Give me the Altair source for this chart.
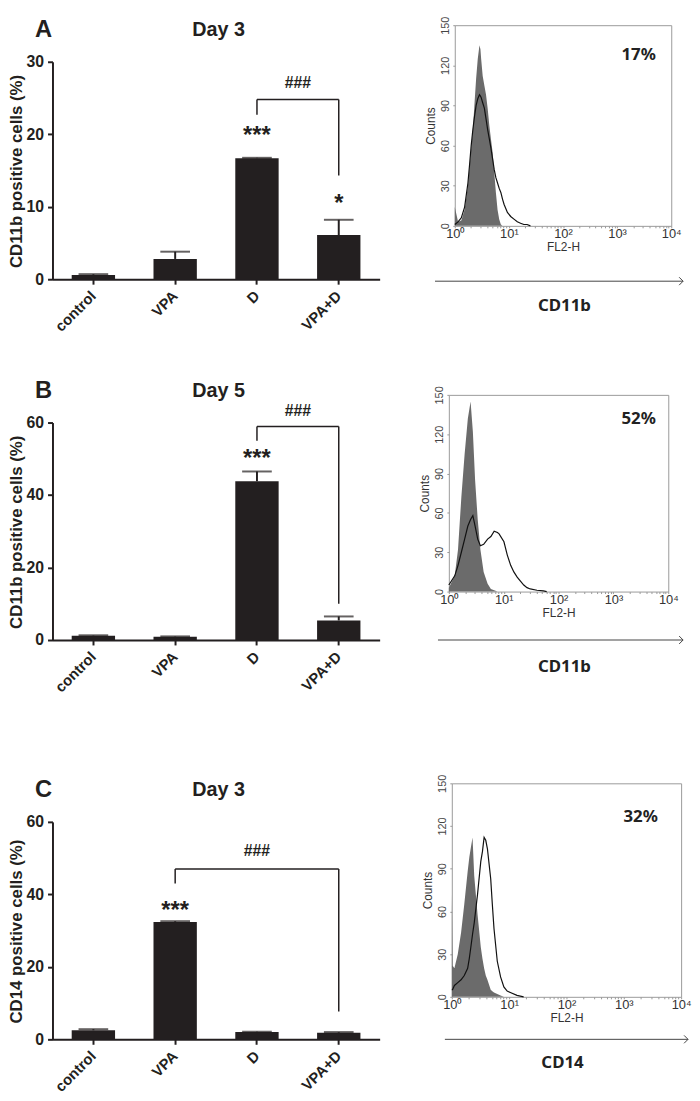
import altair as alt
import pandas as pd

# ---------------- data ----------------
CATS = ["control", "VPA", "D", "VPA+D"]

A_MEAN = [0.6, 2.8, 16.7, 6.1]
A_ERR = [0.1, 1.0, 0.05, 2.1]
B_MEAN = [1.2, 0.9, 43.8, 5.4]
B_ERR = [0.1, 0.1, 2.7, 1.1]
C_MEAN = [2.5, 32.4, 2.0, 1.8]
C_ERR = [0.3, 0.2, 0.1, 0.2]

A_STAR_CAT = ["D", "VPA+D"]
A_STAR_TXT = ["***", "*"]
A_STAR_Y = [20.7, 11.3]
B_STAR_CAT = ["D"]
B_STAR_TXT = ["***"]
B_STAR_Y = [51.7]
C_STAR_CAT = ["VPA"]
C_STAR_TXT = ["***"]
C_STAR_Y = [37.2]

# bracket: categories, [top, left leg end, right leg end], label height
A_BR_CATS = ["D", "VPA+D"]
A_BR_Y = [24.8, 22.7, 14.3]
A_HASH_Y = 27.2
B_BR_CATS = ["D", "VPA+D"]
B_BR_Y = [58.9, 55.0, 10.0]
B_HASH_Y = 63.4
C_BR_CATS = ["VPA", "VPA+D"]
C_BR_Y = [47.0, 43.0, 7.7]
C_HASH_Y = 52.3

# flow cytometry histograms (FL2-H, counts)
HA_FL = [1.00, 1.15, 1.32, 1.52, 1.75, 1.88, 2.01, 2.16, 2.32, 2.48, 2.66, 2.86, 2.98, 3.07,
         3.28, 3.52, 3.78, 4.05, 4.35, 4.66, 5.00, 5.36, 5.75, 6.17, 6.62, 7.10, 7.62, 8.16,
         9.39, 10.8, 12.4, 14.3, 16.4, 18.9, 21.7, 25.0]
HA_ISO = [14, 3, 4, 12, 30, 45, 58, 72, 92, 110, 125, 135, 132, 125,
          112, 105, 98, 88, 75, 65, 55, 40, 25, 12, 5, 1, 0, 0,
          0, 0, 0, 0, 0, 0, 0, 0]
HA_STAIN = [1, 3, 6, 14, 32, 46, 60, 72, 82, 90, 95, 98, 97, 96,
            92, 88, 80, 72, 65, 58, 50, 42, 36, 32, 28, 25, 20, 16,
            10, 7, 5, 3, 2, 1, 1, 0]

HB_FL = [1.00, 1.28, 1.47, 1.69, 1.94, 2.22, 2.49, 2.74, 3.01, 3.36, 3.76, 4.31, 5.09, 5.84,
         6.70, 7.69, 8.24, 10.1, 11.6, 13.4, 15.3, 17.6, 20.2, 23.2, 26.6, 30.5, 40.3, 53.0, 60.8]
HB_ISO = [3, 12, 32, 72, 105, 132, 145, 122, 85, 55, 32, 15, 6, 2,
          1, 0, 0, 0, 0, 0, 0, 0, 0, 0, 0, 0, 0, 0, 0]
HB_STAIN = [5, 12, 20, 30, 40, 50, 55, 58, 50, 40, 35, 36, 40, 42,
            46, 45, 44, 38, 28, 20, 15, 11, 8, 5, 3, 2, 1, 0.5, 0]

HC_FL = [1.00, 1.03, 1.11, 1.27, 1.45, 1.65, 1.89, 2.02, 2.15, 2.30, 2.46, 2.81, 3.20, 3.42,
         3.66, 3.91, 4.18, 4.77, 5.09, 5.44, 6.21, 7.09, 8.09, 9.24, 10.5, 13.7, 17.9]
HC_ISO = [72, 22, 20, 30, 45, 65, 88, 98, 105, 112, 85, 58, 35, 27,
          20, 15, 12, 5, 4, 3, 2, 1, 0, 0, 0, 0, 0]
HC_STAIN = [5, 5, 8, 10, 12, 15, 20, 27, 35, 44, 52, 72, 95, 102,
            112, 110, 104, 83, 65, 48, 25, 14, 7, 4, 3, 1, 0]

X_TICKS = [1, 2, 3, 4, 5, 6, 7, 8, 9, 10, 20, 30, 40, 50, 60, 70, 80, 90,
           100, 200, 300, 400, 500, 600, 700, 800, 900,
           1000, 2000, 3000, 4000, 5000, 6000, 7000, 8000, 9000, 10000]
Y_TICKS_H = [0, 30, 60, 90, 120, 150]

# ---------------- style ----------------
BLK = "#231f20"
FONT = "Liberation Sans"
BAR_W = 331
STEP = BAR_W / 4.0
PI = 0.47
BAR_H = 220


def inv_rule_y(y):
    return alt.Chart(pd.DataFrame({"k": [0]})).mark_rule(strokeOpacity=0, opacity=0).encode(
        y=alt.value(y))


def inv_rule_x(x):
    return alt.Chart(pd.DataFrame({"k": [0]})).mark_rule(strokeOpacity=0, opacity=0).encode(
        x=alt.value(x), y=alt.value(0), y2=alt.value(2))


def bar_panel(letter, day, ytitle, ymax, yvals, mean, err, scat, stxt, sy,
              bcats, by, hy, d):
    xscale = alt.Scale(domain=CATS, paddingInner=PI, paddingOuter=PI / 2)
    xaxis = alt.Axis(title=None, labelAngle=315, labelAlign="right", labelBaseline="middle",
                     labelFont=FONT, labelFontWeight="bold", labelFontSize=15, labelColor=BLK,
                     labelPadding=9, tickSize=5, tickWidth=2, tickColor=BLK,
                     domainColor=BLK, domainWidth=2, grid=False)
    yscale = alt.Scale(domain=[0, ymax], nice=False, range=[BAR_H + d, d])
    yaxis = alt.Axis(title=None, values=yvals, labelFont=FONT, labelFontWeight="bold",
                     labelFontSize=16, labelColor=BLK, labelPadding=4, tickSize=5,
                     tickWidth=2, tickColor=BLK, domainColor=BLK, domainWidth=2, grid=False)

    def X(f):
        return alt.X(f"{f}:N", sort=CATS, scale=xscale, axis=xaxis)

    def Y(f):
        return alt.Y(f"{f}:Q", scale=yscale, axis=yaxis)

    df = pd.DataFrame({"cat": CATS, "mean": mean,
                       "top": [m + e for m, e in zip(mean, err)]})
    bars = alt.Chart(df).mark_bar(color=BLK).encode(x=X("cat"), y=Y("mean"))
    stem = alt.Chart(df).mark_rule(color=BLK, strokeWidth=2).encode(
        x=X("cat"), y=Y("mean"), y2=alt.Y2("top"))
    cap = alt.Chart(df).mark_tick(color=BLK, size=30, thickness=2).encode(
        x=X("cat"), y=Y("top"))

    sdf = pd.DataFrame({"cat": scat, "t": stxt, "y": sy})
    stars = alt.Chart(sdf).mark_text(font=FONT, fontWeight="bold", fontSize=24, color=BLK,
                                     baseline="alphabetic", dy=14).encode(
        x=X("cat"), y=Y("y"), text="t:N")

    hdf = pd.DataFrame({"c1": [bcats[0]], "c2": [bcats[1]], "y": [by[0]]})
    hline = alt.Chart(hdf).mark_rule(color=BLK, strokeWidth=1.5).encode(
        x=X("c1"), x2=alt.X2("c2"), y=Y("y"))
    ldf = pd.DataFrame({"cat": bcats, "y": [by[0], by[0]], "y2": [by[1], by[2]]})
    legs = alt.Chart(ldf).mark_rule(color=BLK, strokeWidth=1.5).encode(
        x=X("cat"), y=Y("y"), y2=alt.Y2("y2"))
    span = CATS.index(bcats[1]) - CATS.index(bcats[0])
    tdf = pd.DataFrame({"cat": [bcats[0]], "y": [hy], "t": ["###"]})
    hashes = alt.Chart(tdf).mark_text(font=FONT, fontWeight="bold", fontSize=16, color=BLK,
                                      baseline="alphabetic", dy=6, dx=span * STEP / 2).encode(
        x=X("cat"), y=Y("y"), text="t:N")

    lt = alt.Chart(pd.DataFrame({"t": [letter]})).mark_text(
        font=FONT, fontWeight="bold", fontSize=24, color=BLK, baseline="middle").encode(
        x=alt.value(-9), y=alt.value(d - 32), text="t:N")
    tt = alt.Chart(pd.DataFrame({"t": [day]})).mark_text(
        font=FONT, fontWeight="bold", fontSize=20, color=BLK, baseline="middle").encode(
        x=alt.value(168), y=alt.value(d - 32), text="t:N")
    yt = alt.Chart(pd.DataFrame({"t": [ytitle]})).mark_text(
        font=FONT, fontWeight="bold", fontSize=17, color=BLK, baseline="middle",
        align="center", angle=270).encode(
        x=alt.value(-35.5), y=alt.value(d + 111), text="t:N")

    return alt.layer(bars, stem, cap, stars, hline, legs, hashes, lt, tt, yt,
                     inv_rule_x(-44), inv_rule_x(348)).properties(width=BAR_W,
                                                                  height=BAR_H + d)


def hist_panel(fl, iso, stain, pct, pct_xy, marker, marker_xy, arrow, width, height,
               top_rule, bottom_rule, left_rule):
    df = pd.DataFrame({"fl": fl, "iso": iso, "stain": stain})
    X = alt.X("fl:Q", scale=alt.Scale(type="log", domain=[1, 10000], nice=False),
              axis=alt.Axis(values=X_TICKS, labelFlush=False, labelOverlap=False,
                            labelExpr="datum.value == 1 ? '10⁰' : datum.value == 10 ? '10¹' : "
                                      "datum.value == 100 ? '10²' : datum.value == 1000 ? '10³' : "
                                      "datum.value == 10000 ? '10⁴' : ''",
                            title="FL2-H", titleFont=FONT, titleFontWeight="normal",
                            titleFontSize=12, titleColor="#333", titlePadding=1,
                            labelFont=FONT, labelFontSize=13, labelColor="#333",
                            labelPadding=0, tickSize=2, tickColor="#999", domain=False,
                            grid=False))
    yax = alt.Axis(values=Y_TICKS_H, labelAngle=270, labelAlign="center",
                   labelBaseline="bottom", labelFont=FONT, labelFontSize=11,
                   labelColor="#444", labelPadding=2, tickSize=2, tickColor="#999",
                   domain=False, grid=False, title="Counts", titleFont=FONT,
                   titleFontWeight="normal", titleFontSize=12, titleColor="#333",
                   titlePadding=3)
    ysc = alt.Scale(domain=[0, 150], nice=False)
    area = alt.Chart(df).mark_area(color="#6b6b6b", opacity=1).encode(
        x=X, y=alt.Y("iso:Q", scale=ysc, axis=yax))
    line = alt.Chart(df).mark_line(color="#111", strokeWidth=1.2).encode(
        x=X, y=alt.Y("stain:Q", scale=ysc, axis=yax))
    pt = alt.Chart(pd.DataFrame({"t": [pct]})).mark_text(
        font="Noto Sans", fontWeight="bold", fontSize=17, color="#222",
        baseline="middle").encode(x=alt.value(pct_xy[0]), y=alt.value(pct_xy[1]), text="t:N")
    mk = alt.Chart(pd.DataFrame({"t": [marker]})).mark_text(
        font="Noto Sans", fontWeight="bold", fontSize=17, color="#222",
        baseline="middle").encode(x=alt.value(marker_xy[0]), y=alt.value(marker_xy[1]),
                                  text="t:N")
    ar = alt.Chart(pd.DataFrame({"k": [0]})).mark_rule(color="#444", strokeWidth=1).encode(
        x=alt.value(arrow[0]), x2=alt.value(arrow[1]), y=alt.value(arrow[2]))
    head = alt.Chart(pd.DataFrame({"k": [0]})).mark_point(
        shape="M-1,-1L0,0L-1,1", filled=False, size=64, color="#444", strokeWidth=1,
        opacity=1).encode(x=alt.value(arrow[1]), y=alt.value(arrow[2]))
    return alt.layer(area, line, pt, mk, ar, head,
                     inv_rule_y(top_rule), inv_rule_y(bottom_rule),
                     inv_rule_x(left_rule)).properties(
        width=width, height=height,
        view=alt.ViewBackground(stroke="#9a9a9a", strokeWidth=1))


barA = bar_panel("A", "Day 3", "CD11b positive cells (%)", 30, [0, 10, 20, 30],
                 A_MEAN, A_ERR, A_STAR_CAT, A_STAR_TXT, A_STAR_Y,
                 A_BR_CATS, A_BR_Y, A_HASH_Y, 37)
barB = bar_panel("B", "Day 5", "CD11b positive cells (%)", 60, [0, 20, 40, 60],
                 B_MEAN, B_ERR, B_STAR_CAT, B_STAR_TXT, B_STAR_Y,
                 B_BR_CATS, B_BR_Y, B_HASH_Y, 28)
barC = bar_panel("C", "Day 3", "CD14 positive cells (%)", 60, [0, 20, 40, 60],
                 C_MEAN, C_ERR, C_STAR_CAT, C_STAR_TXT, C_STAR_Y,
                 C_BR_CATS, C_BR_Y, C_HASH_Y, 39)

histA = hist_panel(HA_FL, HA_ISO, HA_STAIN, "17%", (186, 30), "CD11b", (111, 284),
                   (-20, 231, 259), 219, 203, -10, 354, -47)
histB = hist_panel(HB_FL, HB_ISO, HB_STAIN, "52%", (192, 24), "CD11b", (117, 275),
                   (-11, 237, 248), 222, 199, -18, 377, -41)
histC = hist_panel(HC_FL, HC_ISO, HC_STAIN, "32%", (191, 34), "CD14", (112, 283),
                   (-7, 239, 259), 232, 216, -14, 311, -44)

chart = alt.vconcat(
    alt.hconcat(barA, histA, spacing=10),
    alt.hconcat(barB, histB, spacing=10),
    alt.hconcat(barC, histC, spacing=10),
    spacing=0,
).properties(padding=0).configure_view(stroke="transparent")

chart.save("out.html", embed_options={"renderer": "svg", "actions": False})
